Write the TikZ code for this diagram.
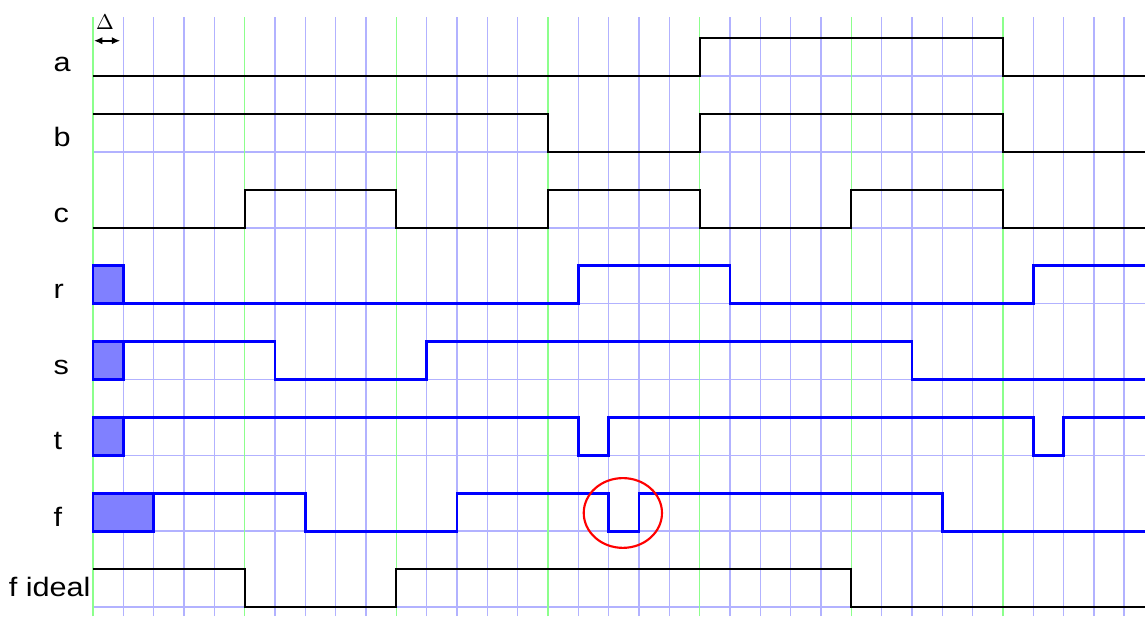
\documentclass[tikz,border=0pt]{standalone}
\usepackage{fontspec}
\usepackage{amsmath}
\newfontfamily\labelfont[FakeStretch=1.15]{Liberation Sans}
\usetikzlibrary{arrows.meta}

\begin{document}
\begin{tikzpicture}[x=0.5cm,y=0.5cm,
    minor/.style={blue!30,line width=0.7pt},
    major/.style={green!45,line width=0.7pt},
    wave/.style={black,line width=0.9pt},
    bluewave/.style={blue,line width=1.3pt},
    init/.style={blue,line width=1.3pt,fill=blue!50},
    lbl/.style={font=\labelfont\fontsize{12.5}{14}\selectfont,inner sep=0pt,anchor=base west}]
            \useasboundingbox (-3.066,-0.297) rectangle (34.685,20.013);
            % grid
            \draw[minor] (0,-0.3) grid[xstep=1,ystep=2.5] (34.69,19.45);
            \foreach \x in {0,5,...,30}
                \draw[major] (\x,-0.3) -- (\x,19.45);
            % delta
            \node (delta) at (0.4,19.27) {\(\Delta\)};
            \coordinate (d0) at (0.03,18.67);
            \coordinate (d1) at (0.9,18.67);
            \draw[{Latex[length=4pt,width=3.5pt]}-{Latex[length=4pt,width=3.5pt]},line width=0.9pt] (d0) -- (d1);
            % labels
            \node[lbl] (la) at (-1.31,17.64) {a};
            \node[lbl] (lb) at (-1.31,15.17) {b};
            \node[lbl] (lc) at (-1.31,12.67) {c};
            \node[lbl] (lr) at (-1.31,10.17) {r};
            \node[lbl] (ls) at (-1.31,7.67) {s};
            \node[lbl] (lt) at (-1.31,5.19) {t};
            \node[lbl] (lf) at (-1.31,2.67) {f};
            \node[lbl] (lfi) at (-2.79,0.34) {f ideal};
            % inputs
            \draw[wave] (0,17.5) -- (20,17.5) -- (20,18.75) -- (30,18.75) -- (30,17.5) -- (34.69,17.5);
            \draw[wave] (0,16.25) -- (15,16.25) -- (15,15) -- (20,15) -- (20,16.25) -- (30,16.25) -- (30,15) -- (34.69,15);
            \draw[wave] (0,12.5) -- (5,12.5) -- (5,13.75) -- (10,13.75) -- (10,12.5) -- (15,12.5) -- (15,13.75) -- (20,13.75) -- (20,12.5) -- (25,12.5) -- (25,13.75) -- (30,13.75) -- (30,12.5) -- (34.69,12.5);
            % gates
            \draw[init] (0,10) rectangle (1,11.25);
            \draw[bluewave] (1,10) -- (16,10) -- (16,11.25) -- (21,11.25) -- (21,10) -- (31,10) -- (31,11.25) -- (34.69,11.25);
            \draw[init] (0,7.5) rectangle (1,8.75);
            \draw[bluewave] (1,8.75) -- (6,8.75) -- (6,7.5) -- (11,7.5) -- (11,8.75) -- (27,8.75) -- (27,7.5) -- (34.69,7.5);
            \draw[init] (0,5) rectangle (1,6.25);
            \draw[bluewave] (1,6.25) -- (16,6.25) -- (16,5) -- (17,5) -- (17,6.25) -- (31,6.25) -- (31,5) -- (32,5) -- (32,6.25) -- (34.69,6.25);
            \draw[init] (0,2.5) rectangle (2,3.75);
            \draw[bluewave] (2,3.75) -- (7,3.75) -- (7,2.5) -- (12,2.5) -- (12,3.75) -- (17,3.75) -- (17,2.5) -- (18,2.5) -- (18,3.75) -- (28,3.75) -- (28,2.5) -- (34.69,2.5);
            % ideal output
            \draw[wave] (0,1.25) -- (5,1.25) -- (5,0) -- (10,0) -- (10,1.25) -- (25,1.25) -- (25,0) -- (34.69,0);
            % glitch
            \draw[red,line width=1pt] (17.47,3.1) ellipse [x radius=1.29,y radius=1.15];
        \end{tikzpicture}
\end{document}
